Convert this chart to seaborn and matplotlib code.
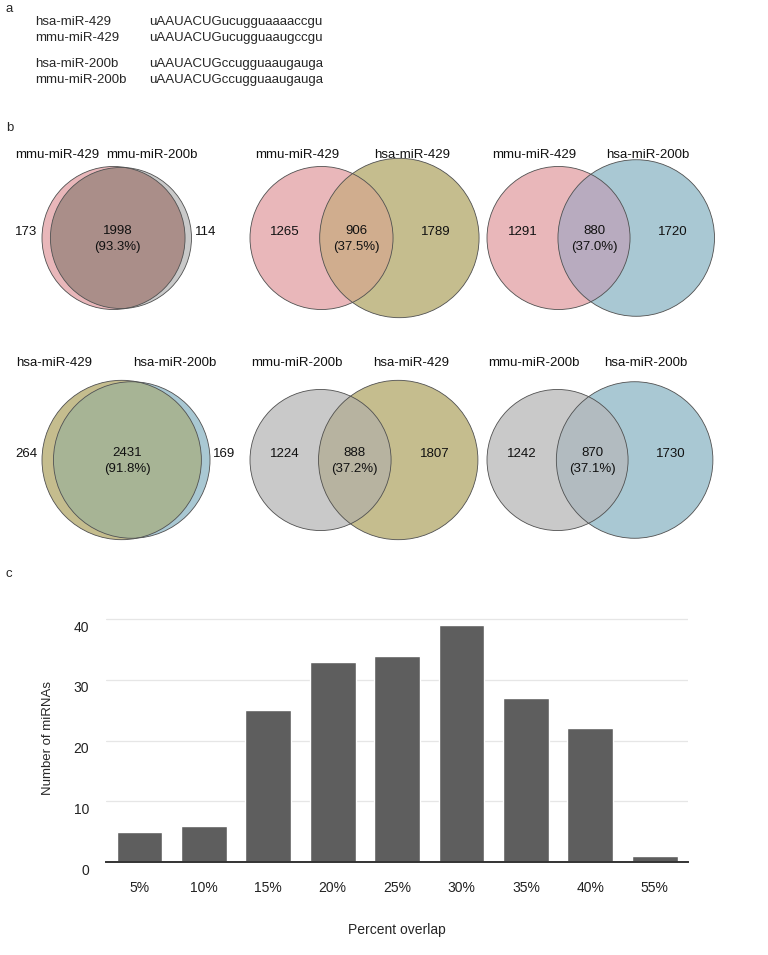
import numpy as np
import pandas as pd
import seaborn as sns
import matplotlib.pyplot as plt
from matplotlib.patches import Circle
from matplotlib.transforms import ScaledTranslation


sns.set_theme(style="white")
plt.rcParams["font.family"] = ["Liberation Sans", "DejaVu Sans"]

# panel a: seed sequences
seq_names = ["hsa-miR-429", "mmu-miR-429", "hsa-miR-200b", "mmu-miR-200b"]
seq_values = [
    "uAAUACUGucugguaaaaccgu",
    "uAAUACUGucugguaaugccgu",
    "uAAUACUGccugguaaugauga",
    "uAAUACUGccugguaaugauga",
]

# panel b: pairwise target overlaps
venn_left = ["mmu-miR-429", "mmu-miR-429", "mmu-miR-429",
             "hsa-miR-429", "mmu-miR-200b", "mmu-miR-200b"]
venn_right = ["mmu-miR-200b", "hsa-miR-429", "hsa-miR-200b",
              "hsa-miR-200b", "hsa-miR-429", "hsa-miR-200b"]
only_left = [173, 1265, 1291, 264, 1224, 1242]
shared = [1998, 906, 880, 2431, 888, 870]
only_right = [114, 1789, 1720, 169, 1807, 1730]
shared_pct = ["93.3%", "37.5%", "37.0%", "91.8%", "37.2%", "37.1%"]

# panel c: histogram of percent overlap
overlap_bins = ["5%", "10%", "15%", "20%", "25%", "30%", "35%", "40%", "55%"]
mirna_counts = [5, 6, 25, 33, 34, 39, 27, 22, 1]

fill = {
    "mmu-miR-429": "#e9b7ba",
    "mmu-miR-200b": "#c9c9c9",
    "hsa-miR-429": "#c5bd8e",
    "hsa-miR-200b": "#a9c8d3",
}
mixed = {
    ("mmu-miR-429", "mmu-miR-200b"): "#aa8e89",
    ("mmu-miR-429", "hsa-miR-429"): "#d0ad8e",
    ("mmu-miR-429", "hsa-miR-200b"): "#b8abbf",
    ("hsa-miR-429", "hsa-miR-200b"): "#a7b495",
    ("mmu-miR-200b", "hsa-miR-429"): "#b7b3a0",
    ("mmu-miR-200b", "hsa-miR-200b"): "#b2bbc0",
}


def lens_area(r1, r2, d):
    a1 = np.arccos(np.clip((d**2 + r1**2 - r2**2) / (2 * d * r1), -1, 1))
    a2 = np.arccos(np.clip((d**2 + r2**2 - r1**2) / (2 * d * r2), -1, 1))
    k = (-d + r1 + r2) * (d + r1 - r2) * (d - r1 + r2) * (d + r1 + r2)
    return r1**2 * a1 + r2**2 * a2 - 0.5 * np.sqrt(max(k, 0))


def centre_distance(r1, r2, area):
    lo, hi = abs(r1 - r2) + 1e-6, r1 + r2
    for _ in range(80):
        mid = (lo + hi) / 2
        if lens_area(r1, r2, mid) > area:
            lo = mid
        else:
            hi = mid
    return (lo + hi) / 2


def draw_venn(ax, i, x_left, cy, lab_y, lab_dx, scale=1.535):
    a, b = venn_left[i], venn_right[i]
    n1 = only_left[i] + shared[i]
    n2 = only_right[i] + shared[i]
    r1, r2 = scale * np.sqrt(n1), scale * np.sqrt(n2)
    d = centre_distance(r1, r2, np.pi * scale**2 * shared[i])
    c1 = x_left + r1
    c2 = c1 + d
    right = c2 + r2

    ax.add_patch(Circle((c1, cy), r1, fc=fill[a], ec="none"))
    ax.add_patch(Circle((c2, cy), r2, fc=fill[b], ec="none"))
    clip = Circle((c1, cy), r1, transform=ax.transData)
    lens = Circle((c2, cy), r2, fc=mixed[(a, b)], ec="none")
    ax.add_patch(lens)
    lens.set_clip_path(clip)
    for c, r in [(c1, r1), (c2, r2)]:
        ax.add_patch(Circle((c, cy), r, fc="none", ec="#505050", lw=0.6))

    kw = dict(fontsize=9.5, color="#111111", va="center")
    mid_x = ((c2 - r2) + (c1 + r1)) / 2
    if shared[i] / min(n1, n2) > 0.8:
        ax.text(x_left - 5, cy - 6, only_left[i], ha="right", **kw)
        ax.text(right + 3, cy - 6, only_right[i], ha="left", **kw)
    else:
        ax.text((x_left + c2 - r2) / 2, cy - 6, only_left[i], ha="center", **kw)
        ax.text((c1 + r1 + right) / 2, cy - 6, only_right[i], ha="center", **kw)
    ax.text(mid_x, cy - 7, shared[i], ha="center", **kw)
    ax.text(mid_x, cy + 9, f"({shared_pct[i]})", ha="center", **kw)

    ax.text(x_left + lab_dx[0], lab_y, a, ha="center", **kw)
    ax.text(right + lab_dx[1], lab_y, b, ha="center", **kw)


fig = plt.figure(figsize=(7.68, 9.55), dpi=100)

# overlay axes in pixel coordinates for panels a and b
top_ax = fig.add_axes([0, 0, 1, 1])
top_ax.set_xlim(0, 768)
top_ax.set_ylim(955, 0)
top_ax.axis("off")

top_ax.text(6, 9, "a", fontsize=9.5, va="center")
for name, seq, y in zip(seq_names, seq_values, [22, 38, 64, 80]):
    top_ax.text(35, y, name, fontsize=9.5, va="center")
    top_ax.text(149, y, seq, fontsize=9.5, va="center")

top_ax.text(6, 128, "b", fontsize=9.5, va="center")
col_left = [42, 250, 487]
row_cy = [238, 460]
row_lab_y = [155, 363]
label_dx = [[(15, -40), (47, -67), (47, -67)],
            [(12, -35), (47, -67), (47, -67)]]
for i in range(6):
    row, col = i // 3, i % 3
    draw_venn(top_ax, i, col_left[col], row_cy[row], row_lab_y[row],
              label_dx[row][col])

top_ax.text(6, 574, "c", fontsize=9.5, va="center")

# panel c: bar chart
ax = fig.add_axes([0.138, 1 - 862 / 955, 0.758, (862 - 613) / 955])
df = pd.DataFrame({"overlap": overlap_bins, "count": mirna_counts})
sns.barplot(data=df, x="overlap", y="count", color="#5e5e5e",
            saturation=1, width=0.71, ax=ax)
ax.set_xlim(-0.52, 8.52)
ax.set_ylim(0, 41)
ax.set_yticks([0, 10, 20, 30, 40])
for s in ["top", "right", "left"]:
    ax.spines[s].set_visible(False)
ax.spines["bottom"].set_color("#333333")
ax.spines["bottom"].set_linewidth(1.4)
ax.yaxis.grid(True, color="#e6e6e6", lw=0.9)
ax.set_axisbelow(True)
ax.tick_params(length=0, labelsize=10, colors="#222222")
narrow = ["Liberation Sans Narrow", "Liberation Sans", "DejaVu Sans"]
for lab in ax.get_xticklabels() + ax.get_yticklabels():
    lab.set_family(narrow)
for lab in ax.get_yticklabels():
    lab.set_transform(lab.get_transform()
                      + ScaledTranslation(-0.12, -0.07, fig.dpi_scale_trans))
ax.tick_params(axis="x", pad=14)
ax.set_xlabel("Percent overlap", fontsize=10, family=narrow, labelpad=20)
ax.set_ylabel("Number of miRNAs", fontsize=9.5, labelpad=14)

fig.savefig("out.png", dpi=100)
